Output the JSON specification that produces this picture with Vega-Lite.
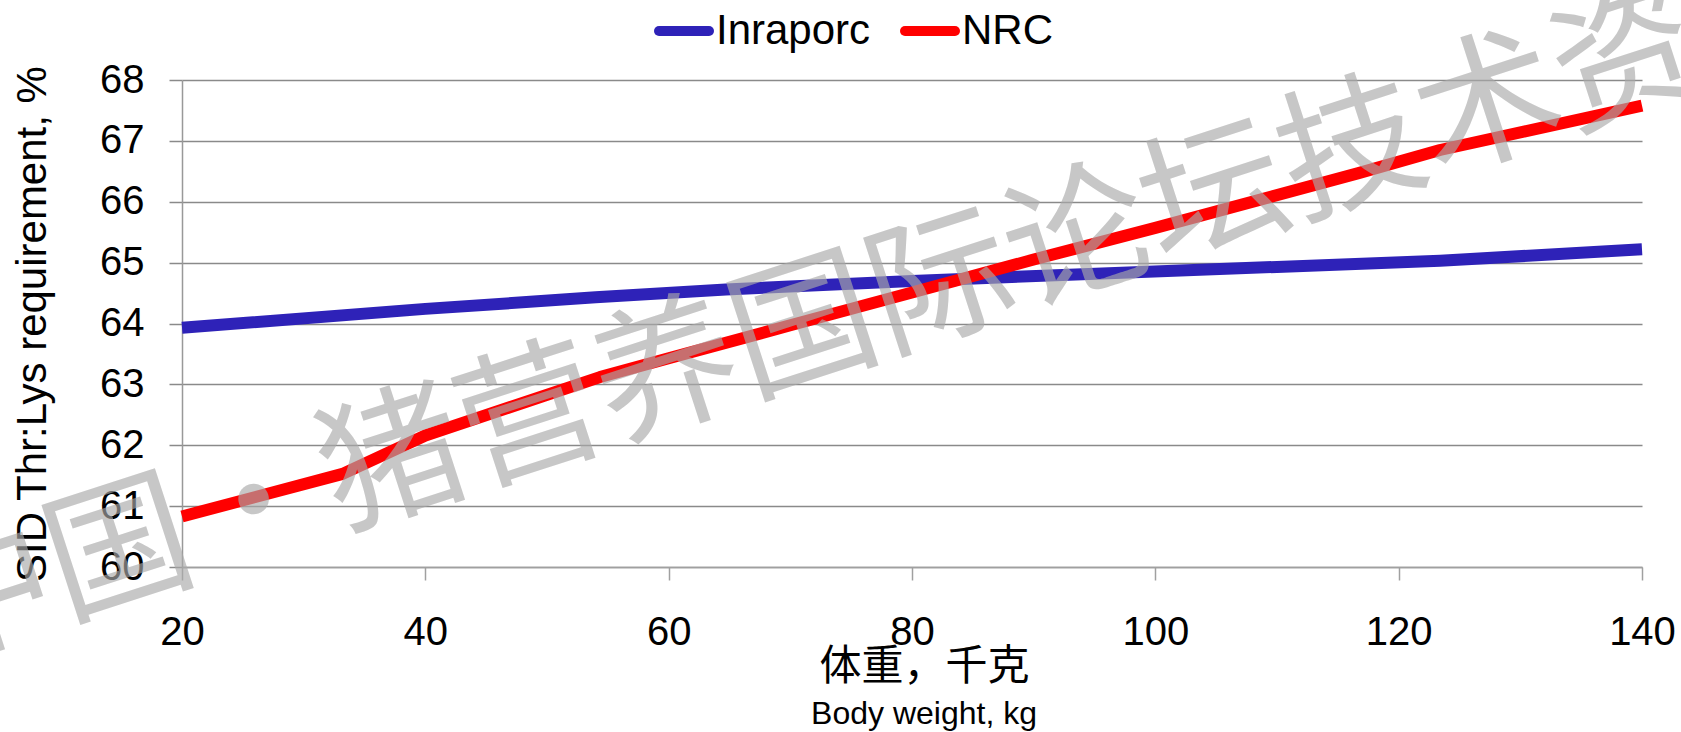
{
  "$schema": "https://vega.github.io/schema/vega-lite/v6.json",
  "width": 1460,
  "height": 487,
  "autosize": {"type": "none"},
  "padding": {"left": 182, "top": 80, "right": 39, "bottom": 165},
  "background": "white",
  "config": {"view": {"stroke": null}, "font": "Liberation Sans"},
  "title": {"text": "Body weight, kg", "orient": "bottom", "anchor": "middle", "fontSize": 32, "font": "Liberation Sans", "fontWeight": "normal", "color": "black", "offset": 9, "dx": 12},
  "layer": [
    {
      "data": {"values": [
        {"model": "Inraporc", "weight": 20, "value": 63.93},
        {"model": "Inraporc", "weight": 40, "value": 64.24},
        {"model": "Inraporc", "weight": 54, "value": 64.43},
        {"model": "Inraporc", "weight": 64.7, "value": 64.56},
        {"model": "Inraporc", "weight": 80, "value": 64.70},
        {"model": "Inraporc", "weight": 94, "value": 64.81},
        {"model": "Inraporc", "weight": 110, "value": 64.93},
        {"model": "Inraporc", "weight": 123.4, "value": 65.03},
        {"model": "Inraporc", "weight": 140, "value": 65.22},
        {"model": "NRC", "weight": 20, "value": 60.83},
        {"model": "NRC", "weight": 33.2, "value": 61.53},
        {"model": "NRC", "weight": 40, "value": 62.16},
        {"model": "NRC", "weight": 54.35, "value": 63.12},
        {"model": "NRC", "weight": 60, "value": 63.43},
        {"model": "NRC", "weight": 70, "value": 63.97},
        {"model": "NRC", "weight": 80, "value": 64.51},
        {"model": "NRC", "weight": 90, "value": 65.05},
        {"model": "NRC", "weight": 100, "value": 65.57},
        {"model": "NRC", "weight": 116.7, "value": 66.47},
        {"model": "NRC", "weight": 123.4, "value": 66.85},
        {"model": "NRC", "weight": 140, "value": 67.58}
      ]},
      "mark": {"type": "line", "strokeWidth": 12, "strokeCap": "butt", "strokeJoin": "round"},
      "encoding": {
        "x": {
          "field": "weight", "type": "quantitative",
          "scale": {"domain": [20, 140], "nice": false},
          "axis": {
            "title": "体重，千克", "titleFont": "Noto Sans CJK SC", "titleFontSize": 42, "titleFontWeight": "normal", "titleColor": "black",
            "titleX": 742, "titleY": 112, "titleBaseline": "alphabetic", "titleAlign": "center",
            "values": [20, 40, 60, 80, 100, 120, 140],
            "labelFontSize": 40, "labelColor": "black", "labelPadding": 32, "labelFlush": false, "labelOverlap": false,
            "tickSize": 13, "tickColor": "#a0a0a0", "tickWidth": 1.5,
            "domainColor": "#a0a0a0", "domainWidth": 1.5, "grid": false
          }
        },
        "y": {
          "field": "value", "type": "quantitative",
          "scale": {"domain": [60, 68], "nice": false, "zero": false},
          "axis": {
            "title": "SID Thr:Lys requirement, %", "titleFontSize": 42, "titleFontWeight": "normal", "titleColor": "black", "titlePadding": 45,
            "values": [60, 61, 62, 63, 64, 65, 66, 67, 68], "format": "d",
            "labelFontSize": 40, "labelColor": "black", "labelPadding": 25, "labelFlush": false, "labelOverlap": false,
            "tickSize": 13, "tickColor": "#8a8a8a", "tickWidth": 1.5,
            "grid": true, "gridColor": "#8a8a8a", "gridWidth": 1.5,
            "domainColor": "#999999", "domainWidth": 1.5
          }
        },
        "color": {
          "field": "model", "type": "nominal",
          "scale": {"domain": ["Inraporc", "NRC"], "range": ["#2e22b8", "#ff0000"]},
          "legend": {
            "title": null, "orient": "none", "legendX": 472, "legendY": -79, "direction": "horizontal",
            "symbolType": "stroke", "symbolSize": 2500, "symbolStrokeWidth": 10,
            "labelFontSize": 42, "labelColor": "black", "labelFont": "Liberation Sans", "labelOffset": 2,
            "columnPadding": 14, "padding": 0,
            "encode": {"symbols": {"update": {"strokeCap": {"value": "round"}}}}
          }
        }
      }
    },
    {
      "data": {"values": [{"weight": 71.2, "value": 63.86, "label": "中国·猪营养国际论坛技术资"}]},
      "mark": {"type": "text", "angle": 342, "font": "Noto Sans CJK SC", "fontSize": 144, "fill": "#aaaaaa", "opacity": 0.65, "align": "center", "baseline": "middle"},
      "encoding": {
        "x": {"field": "weight", "type": "quantitative"},
        "y": {"field": "value", "type": "quantitative"},
        "text": {"field": "label"}
      }
    }
  ]
}
